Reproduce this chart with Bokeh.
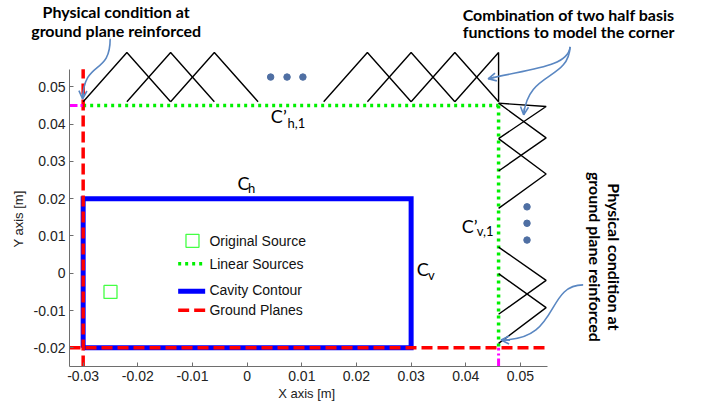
import math
from bokeh.plotting import figure
from bokeh.models import (FixedTicker, CustomJSTickFormatter, Arrow, OpenHead, Range1d)
from bokeh.core.properties import value
from bokeh.embed import file_html
from bokeh.resources import INLINE

# ---------------- data ----------------
x_ticks = [-0.03, -0.02, -0.01, 0.0, 0.01, 0.02, 0.03, 0.04, 0.05]
x_tick_labels = ["-0.03", "-0.02", "-0.01", "0", "0.01", "0.02", "0.03", "0.04", "0.05"]
y_ticks = [-0.02, -0.01, 0.0, 0.01, 0.02, 0.03, 0.04, 0.05]
y_tick_labels = ["-0.02", "-0.01", "0", "0.01", "0.02", "0.03", "0.04", "0.05"]
x_title = "X axis [m]"
y_title = "Y axis [m]"

# axes limits (as drawn)
x_lim = (-0.0325, 0.055)
y_lim = (-0.025, 0.0547)

# cavity contour (closed rectangle)
cavity_x = [-0.03, 0.03, 0.03, -0.03, -0.03]
cavity_y = [-0.02, -0.02, 0.02, 0.02, -0.02]

# ground planes
ground_x = [[-0.03, -0.03], [-0.0325, 0.055]]
ground_y = [[-0.025, 0.0547], [-0.02, -0.02]]

# linear sources contour C'
linear_x = [[-0.03, 0.046], [0.046, 0.046]]
linear_y = [[0.045, 0.045], [0.045, -0.02]]

# projections to the axes (magenta)
proj_x = [[-0.0325, -0.03], [0.046, 0.046]]
proj_y = [[0.045, 0.045], [-0.025, -0.02]]

# original source
source_x = [-0.025]
source_y = [-0.005]

# basis functions along C'h,1 : left foot, peak, right foot (x)
h_left = [-0.030, -0.022, -0.014, 0.014, 0.022, 0.030, 0.038]
h_peak = [-0.022, -0.014, -0.006, 0.022, 0.030, 0.038, 0.046]
h_right = [-0.014, -0.006, 0.002, 0.030, 0.038, 0.046, 0.046]
h_base = 0.046
h_top = 0.0592

# basis functions along C'v,1 : upper foot, peak, lower foot (y)
v_upper = [0.0456, 0.0456, 0.0361, 0.0070, -0.0001]
v_peak = [0.0447, 0.0363, 0.0266, -0.0019, -0.0092]
v_lower = [0.0361, 0.0274, 0.0174, -0.0110, -0.0188]
v_base = 0.046
v_top = 0.0547

# ellipsis dots
dots_h_x = [0.0043, 0.0073, 0.0102]
dots_h_y = [0.0526, 0.0526, 0.0526]
dots_v_x = [0.0512, 0.0512, 0.0512]
dots_v_y = [0.0178, 0.0134, 0.0089]

# contour labels (baseline positions)
lab_main = ["C\u2019", "C", "C", "C\u2019"]
lab_main_x = [0.00434, -0.00177, 0.03105, 0.03928]
lab_main_y = [0.0400, 0.0219, -0.00115, 0.01048]
lab_sub = ["h,1", "h", "v", "v,1"]
lab_sub_x = [0.00740, 0.00015, 0.03310, 0.0420]
lab_sub_y = [0.03863, 0.0212, -0.00204, 0.00976]

# legend
leg_labels = ["Original Source", "Linear Sources", "Cavity Contour", "Ground Planes"]
leg_text_x = -0.0069
leg_text_y = [0.00689, 0.00064, -0.00632, -0.01161]
leg_marker = (-0.0100, 0.00869)
leg_sample_x = [-0.01262, -0.00768]
leg_sample_y = {"linear": 0.00252, "cavity": -0.00485, "ground": -0.00995}

# callout notes (baseline positions)
note_tl = ["Physical condition at", "ground plane reinforced"]
note_tl_x = -0.02397
note_tl_y = [0.06812, 0.06319]
note_tr = ["Combination of two half basis", "functions to model the corner"]
note_tr_x = 0.05882
note_tr_y = [0.06748, 0.06276]
note_rt = ["Physical condition at", "ground plane reinforced"]
note_rt_x = [0.06592, 0.0623]
note_rt_y = 0.0044

# callout curves: (x0, y0, cx0, cy0, cx1, cy1, x1, y1)
callouts = [
    (-0.02506, 0.06287, -0.02506, 0.05292, -0.02982, 0.05748, -0.03010, 0.04676),
    (0.05909, 0.06070, 0.05873, 0.05534, 0.05177, 0.05480, 0.04409, 0.05212),
    (0.05909, 0.06070, 0.05873, 0.05158, 0.05141, 0.05426, 0.05059, 0.04247),
    (0.06147, -0.00313, 0.05452, -0.00313, 0.05726, -0.01815, 0.04647, -0.01788),
]

# axis title anchors (centre, baseline)
x_title_pos = (0.01089, -0.03381)
y_title_pos = (-0.04071, 0.01453)

# ---------------- figure ----------------
W, H = 701, 407
PX_X, PX_Y = 5466.0, 3730.0          # pixels per data unit
X0 = x_lim[0] - 69 / PX_X
X1 = X0 + W / PX_X
Y0 = y_lim[0] - 41 / PX_Y
Y1 = Y0 + H / PX_Y
K_BASE = 0.46                         # baseline correction, fraction of font size

def up(y, fs):
    return y + K_BASE * fs / PX_Y

def right(x, fs):
    return x + K_BASE * fs / PX_X

p = figure(width=W, height=H,
           x_range=Range1d(X0, X1), y_range=Range1d(Y0, Y1),
           output_backend="svg", toolbar_location=None, title=None,
           min_border_left=0, min_border_bottom=0, min_border_top=0, min_border_right=0)
p.outline_line_color = None
p.background_fill_color = "white"
p.border_fill_color = "white"
p.grid.visible = False

TICK_FONT = "Liberation Sans"
AX_COLOR = "#6e6e6e"
TXT_COLOR = "#222222"
GREEN_DOT = "3 4"
RED_DASH = "11 5"

def style_axis(ax, ticks, labels, bounds, loc):
    ax.fixed_location = loc
    ax.ticker = FixedTicker(ticks=ticks)
    ax.formatter = CustomJSTickFormatter(args=dict(tvals=ticks, tlabels=labels), code="""
        let best = 0, d = Infinity;
        for (let i = 0; i < tvals.length; i++) {
            const e = Math.abs(tvals[i] - tick);
            if (e < d) { d = e; best = i; }
        }
        return tlabels[best];
    """)
    ax.bounds = bounds
    ax.axis_line_color = AX_COLOR
    ax.major_tick_line_color = AX_COLOR
    ax.major_tick_in = 4
    ax.major_tick_out = 0
    ax.minor_tick_line_color = None
    ax.major_label_standoff = 4
    ax.major_label_text_font = TICK_FONT
    ax.major_label_text_font_size = "14px"
    ax.major_label_text_color = TXT_COLOR

style_axis(p.xaxis[0], x_ticks, x_tick_labels, x_lim, y_lim[0])
style_axis(p.yaxis[0], y_ticks, y_tick_labels, y_lim, x_lim[0])

# axis titles (centred on the drawn axes)
FS_AX = 13
p.text([x_title_pos[0]], [up(x_title_pos[1], FS_AX)], text=[x_title], text_font=value(TICK_FONT),
       text_font_size=f"{FS_AX}px", text_color=TXT_COLOR, text_align="center", text_baseline="alphabetic")
p.text([y_title_pos[0] - K_BASE * FS_AX / PX_X], [y_title_pos[1]], text=[y_title], text_font=value(TICK_FONT),
       text_font_size=f"{FS_AX}px", text_color=TXT_COLOR, text_align="center", text_baseline="alphabetic",
       angle=math.pi / 2)

# cavity contour
p.line(cavity_x, cavity_y, line_color="#0000ff", line_width=5, line_join="miter")
# linear sources
p.multi_line(linear_x, linear_y, line_color="#00f000", line_width=3.5, line_dash=GREEN_DOT)
# ground planes
p.multi_line(ground_x, ground_y, line_color="#ff0000", line_width=3.5, line_dash=RED_DASH)
# projections
p.multi_line(proj_x, proj_y, line_color="#ff00ff", line_width=3, line_dash="8 3 2 3")
# original source
p.scatter(source_x, source_y, marker="square", size=13, fill_color=None,
          line_color="#44ff44", line_width=1.3)

# basis functions
hx = [[a, b, c] for a, b, c in zip(h_left, h_peak, h_right)]
hy = [[h_base, h_top, h_base] for _ in h_left]
p.multi_line(hx, hy, line_color="black", line_width=1.4)
vx = [[v_base, v_top, v_base] for _ in v_upper]
vy = [[a, b, c] for a, b, c in zip(v_upper, v_peak, v_lower)]
p.multi_line(vx, vy, line_color="black", line_width=1.4)

# ellipsis dots
p.scatter(dots_h_x, dots_h_y, marker="circle", size=6.5, color="#4f6fa3")
p.scatter(dots_v_x, dots_v_y, marker="circle", size=6.5, color="#4f6fa3")

# contour labels
FS_MAIN, FS_SUB = 18, 13
p.text(lab_main_x, [up(y, FS_MAIN) for y in lab_main_y], text=lab_main, text_font=value("Lato"),
       text_font_size=f"{FS_MAIN}px", text_color="black", text_baseline="alphabetic", text_align="left")
p.text(lab_sub_x, [up(y, FS_SUB) for y in lab_sub_y], text=lab_sub, text_font=value("Lato"),
       text_font_size=f"{FS_SUB}px", text_color="black", text_baseline="alphabetic", text_align="left")

# legend (drawn in the axes)
FS_LEG = 14
p.scatter([leg_marker[0]], [leg_marker[1]], marker="square", size=13, fill_color=None,
          line_color="#44ff44", line_width=1.3)
p.line(leg_sample_x, [leg_sample_y["linear"]] * 2, line_color="#00f000", line_width=3.5, line_dash=GREEN_DOT)
p.line(leg_sample_x, [leg_sample_y["cavity"]] * 2, line_color="#0000ff", line_width=5)
p.line(leg_sample_x, [leg_sample_y["ground"]] * 2, line_color="#ff0000", line_width=3.5, line_dash=RED_DASH)
p.text([leg_text_x] * 4, [up(y, FS_LEG) for y in leg_text_y], text=leg_labels, text_font=value(TICK_FONT),
       text_font_size=f"{FS_LEG}px", text_color="#111111", text_baseline="alphabetic", text_align="left")

# callout notes
FS_NOTE = 16
p.text([note_tl_x] * 2, [up(y, FS_NOTE) for y in note_tl_y], text=note_tl, text_font=value("Lato"),
       text_font_size=f"{FS_NOTE}px", text_font_style="bold", text_color="black",
       text_align="center", text_baseline="alphabetic")
p.text([note_tr_x] * 2, [up(y, FS_NOTE) for y in note_tr_y], text=note_tr, text_font=value("Lato"),
       text_font_size=f"{FS_NOTE}px", text_font_style="bold", text_color="black",
       text_align="center", text_baseline="alphabetic")
p.text([right(x, FS_NOTE) for x in note_rt_x], [note_rt_y] * 2, text=note_rt, text_font=value("Lato"),
       text_font_size=f"{FS_NOTE}px", text_font_style="bold", text_color="black",
       text_align="center", text_baseline="alphabetic", angle=-math.pi / 2)

# callout curves with arrow heads
ARROW_C = "#5a87c2"
for (x0, y0, cx0, cy0, cx1, cy1, x1, y1) in callouts:
    p.bezier(x0=[x0], y0=[y0], cx0=[cx0], cy0=[cy0], cx1=[cx1], cy1=[cy1], x1=[x1], y1=[y1],
             line_color=ARROW_C, line_width=1.6)
    sx = x1 - 0.15 * (x1 - cx1)
    sy = y1 - 0.15 * (y1 - cy1)
    p.add_layout(Arrow(x_start=sx, y_start=sy, x_end=x1, y_end=y1,
                       line_color=ARROW_C, line_width=1.6,
                       end=OpenHead(size=8, line_color=ARROW_C, line_width=1.6)))

open("out.html", "w").write(file_html(p, INLINE))
